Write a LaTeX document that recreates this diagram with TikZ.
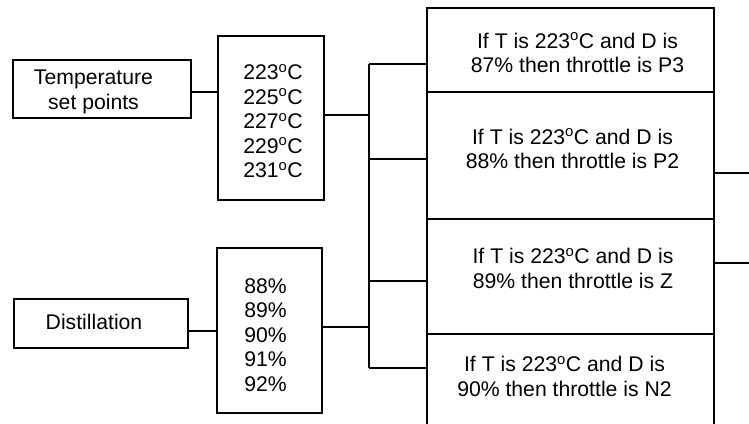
\documentclass[tikz,border=0pt]{standalone}
\usepackage{fontspec}
\setmainfont{Liberation Sans}
\begin{document}
\begin{tikzpicture}[x=1pt,y=-1pt,
  box/.style={draw,line width=1.3pt,minimum width=#1,inner sep=0pt},
  txt/.style={font=\fontsize{21.2}{24.5}\selectfont,align=center,inner sep=0pt},
  vals/.style={font=\fontsize{21.2}{24.5}\selectfont,align=left,inner sep=0pt},
  conn/.style={line width=1.3pt}]
\clip (0,0) rectangle (749,423);
\useasboundingbox (0,0) rectangle (749,423);
% left boxes
\node[box=178pt,minimum height=58pt] (tp) at (102,89) {};
\node[txt] (tpt) at (93.5,92) {Temperature\\set points};
\node[box=106pt,minimum height=164pt] (tv) at (271,118) {};
\node[vals] (tvt) at (273,121) {223\textsuperscript{o}C\\225\textsuperscript{o}C\\227\textsuperscript{o}C\\229\textsuperscript{o}C\\231\textsuperscript{o}C};
\node[box=174pt,minimum height=49pt] (ds) at (101,323.5) {};
\node[txt] (dst) at (94,322) {Distillation};
\node[box=105pt,minimum height=165pt] (dv) at (269.5,330.5) {};
\node[vals] (dvt) at (265.5,335) {88\%\\89\%\\90\%\\91\%\\92\%};
% right rule boxes
\node[box=287pt,minimum height=84pt] (r1) at (570.5,50) {};
\node[box=287pt,minimum height=127pt] (r2) at (570.5,155.5) {};
\node[box=287pt,minimum height=115pt] (r3) at (570.5,276.5) {};
\node[box=287pt,minimum height=110pt] (r4) at (570.5,389) {};
\node[txt] (r1t) at (577.5,53) {If T is 223\textsuperscript{o}C and D is\\87\% then throttle is P3};
\node[txt] (r2t) at (572.5,149) {If T is 223\textsuperscript{o}C and D is\\88\% then throttle is P2};
\node[txt] (r3t) at (573,268.5) {If T is 223\textsuperscript{o}C and D is\\89\% then throttle is Z};
\node[txt] (r4t) at (564.5,376.5) {If T is 223\textsuperscript{o}C and D is\\90\% then throttle is N2};
% connectors
\coordinate (c1) at (0,92);
\coordinate (c2) at (0,331);
\coordinate (c3) at (369,115);
\coordinate (c4) at (369,327);
\coordinate (bt) at (369,64);
\coordinate (b2) at (369,159);
\coordinate (b3) at (369,281);
\coordinate (bb) at (369,368);
\coordinate (o1) at (749,173);
\coordinate (o2) at (749,263);
\draw[conn] (tp.east |- c1) -- (tv.west |- c1);
\draw[conn] (ds.east |- c2) -- (dv.west |- c2);
\draw[conn] (tv.east |- c3) -- (c3);
\draw[conn] (dv.east |- c4) -- (c4);
\draw[conn] (bt) -- (bb);
\draw[conn] (bt) -- (r1.west |- bt);
\draw[conn] (b2) -- (r2.west |- b2);
\draw[conn] (b3) -- (r3.west |- b3);
\draw[conn] (bb) -- (r4.west |- bb);
\draw[conn] (r2.east |- o1) -- (o1);
\draw[conn] (r3.east |- o2) -- (o2);
\end{tikzpicture}
\end{document}
